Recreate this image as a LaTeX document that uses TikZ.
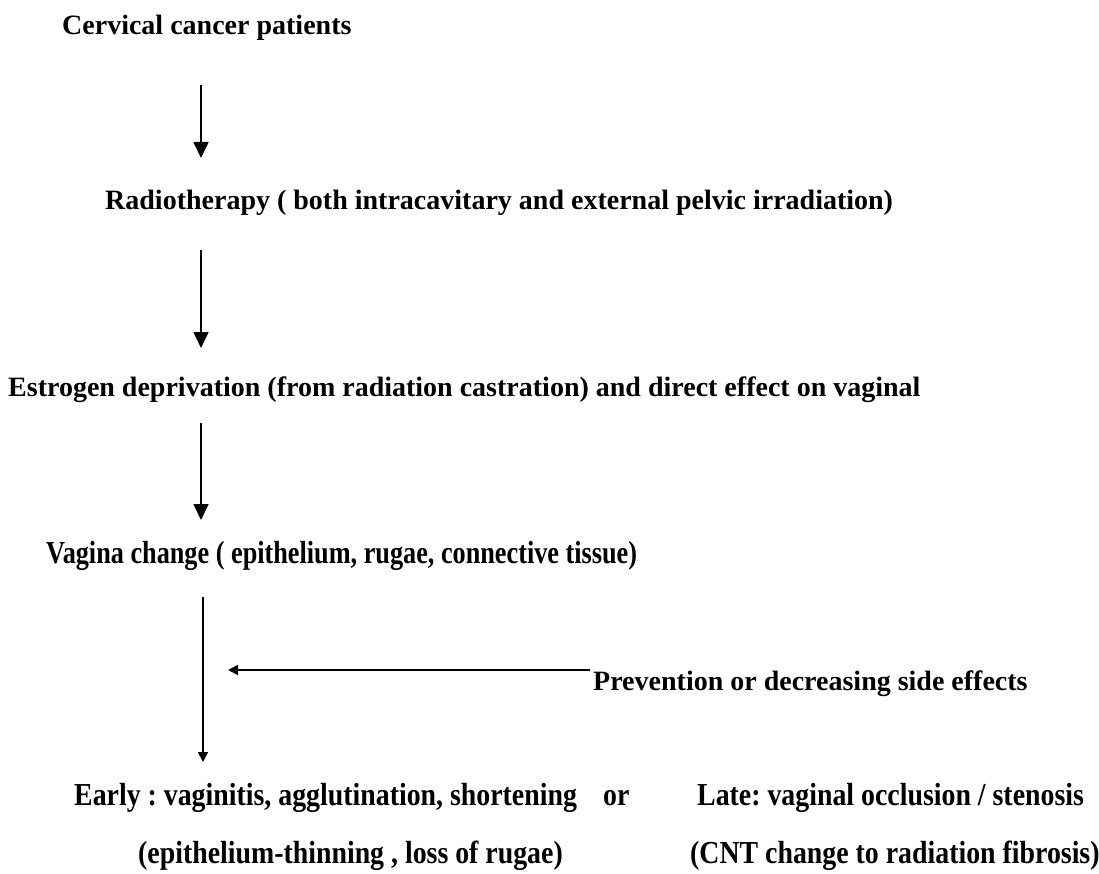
\documentclass[tikz,border=0pt]{standalone}
\usepackage{fontspec}
\setmainfont{Liberation Serif}
\newfontfamily\narrowfont[FakeStretch=0.87]{Liberation Serif}
\newfontfamily\vagfont[FakeStretch=0.82]{Liberation Serif}
\usetikzlibrary{arrows.meta}
\frenchspacing
\begin{document}
\frenchspacing
\begin{tikzpicture}[x=1pt,y=1pt,
  lbl/.style={anchor=base west, inner sep=0pt, font=\fontsize{28}{32}\selectfont\bfseries\frenchspacing},
  nlbl/.style={anchor=base west, inner sep=0pt, font=\fontsize{32}{36}\narrowfont\bfseries\frenchspacing},
  vlbl/.style={anchor=base west, inner sep=0pt, font=\fontsize{32}{36}\vagfont\bfseries\frenchspacing},
  arr/.style={-{Triangle[length=16pt,width=15pt]}, line width=1.7pt},
  sarr/.style={-{Triangle[length=10pt,width=10pt]}, line width=1.7pt}]
\useasboundingbox (0,0) rectangle (1099,-874);
\node[lbl] (cerv) at (62,-35) {Cervical cancer patients};
\node[lbl] (radio) at (105,-210) {Radiotherapy ( both intracavitary and external pelvic irradiation)};
\node[lbl] (estr) at (8,-396) {Estrogen deprivation (from radiation castration) and direct effect on vaginal};
\node[vlbl] (vag) at (46,-563) {Vagina change ( epithelium, rugae, connective tissue)};
\node[lbl] (prev) at (593,-690) {Prevention or decreasing side effects};
\node[nlbl] (early) at (74,-805) {Early : vaginitis, agglutination, shortening};
\node[nlbl] (or) at (603,-805) {or};
\node[nlbl] (late) at (697,-805) {Late: vaginal occlusion / stenosis};
\node[nlbl] (epi) at (138,-863) {(epithelium-thinning , loss of rugae)};
\node[nlbl] (cnt) at (690,-863) {(CNT change to radiation fibrosis)};
\coordinate (a1s) at (201,-85);  \coordinate (a1e) at (201,-158);
\coordinate (a2s) at (201,-250); \coordinate (a2e) at (201,-348);
\coordinate (a3s) at (201,-423); \coordinate (a3e) at (201,-520);
\coordinate (a4s) at (203,-597); \coordinate (a4e) at (203,-762);
\coordinate (hs) at (590,-670);  \coordinate (he) at (228,-670);
\draw[arr] (a1s) -- (a1e);
\draw[arr] (a2s) -- (a2e);
\draw[arr] (a3s) -- (a3e);
\draw[sarr] (a4s) -- (a4e);
\draw[sarr] (hs) -- (he);
\end{tikzpicture}
\end{document}
